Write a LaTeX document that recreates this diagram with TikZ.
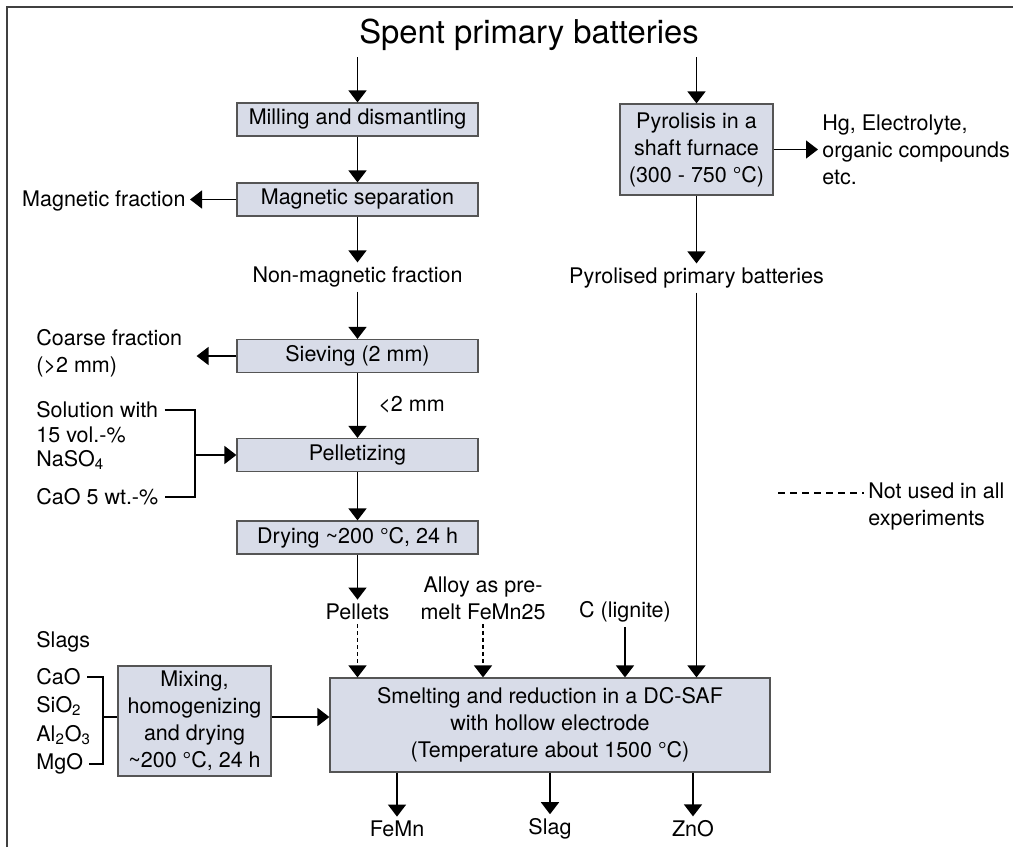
\documentclass[tikz,border=0pt]{standalone}
\usepackage{fontspec}
\setmainfont{TeX Gyre Heros}
\usetikzlibrary{arrows.meta}
\definecolor{boxfill}{RGB}{216,220,232}
\definecolor{boxline}{RGB}{85,85,85}
\tikzset{
  stepbox/.style={draw=boxline, fill=boxfill, line width=0.6pt, align=center, inner sep=0pt,
    minimum width=120.5pt, minimum height=16.5pt},
  txt/.style={align=center, inner sep=2pt},
  flow/.style={line width=0.75pt, -{Triangle[length=6pt, width=9pt]}},
  maybe/.style={flow, dash pattern=on 2pt off 1.5pt},
  link/.style={line width=0.75pt},
}
\newcommand{\sub}[1]{\textsubscript{#1}}

\begin{document}
\begin{tikzpicture}[x=0.5pt, y=-0.5pt, font=\fontsize{10.75}{13.5}\selectfont]
\useasboundingbox (0,0) rectangle (1013,847);
\draw[line width=1pt, black!75] (7,847) -- (7,7) -- (1013,7);

% left branch
\node[txt, inner sep=3pt, font=\fontsize{16.4}{20}\selectfont] (spent) at (529,35) {Spent primary batteries};
\node[stepbox] (mill) at (357.5,119.5) {Milling and dismantling};
\node[stepbox] (magsep) at (357.5,199.5) {Magnetic separation};
\node[txt, anchor=east] (magfrac) at (190,201) {Magnetic fraction};
\node[txt] (nonmag) at (357.5,277) {Non-magnetic fraction};
\node[stepbox] (sieve) at (357.5,356) {Sieving (2 mm)};
\node[txt, anchor=west, align=left] (coarse) at (32,353) {Coarse fraction\\(>2 mm)};
\node[txt, anchor=west] (fine) at (374,405) {<2 mm};
\node[stepbox] (pellet) at (357.5,455) {Pelletizing};
\node[txt, inner sep=3pt, anchor=west] (sol1) at (30,410) {Solution with};
\node[txt, anchor=west] (sol2) at (32,435) {15 vol.-\%};
\node[txt, anchor=west] (sol3) at (32,460) {NaSO\sub{4}};
\node[txt, inner sep=3pt, anchor=west] (cao5) at (30,497) {CaO 5 wt.-\%};
\coordinate (solmid) at (195,455);
\node[stepbox] (dry) at (357.5,537.5) {Drying \textasciitilde200 °C, 24 h};
\node[txt] (pellets) at (357.5,612) {Pellets};
\node[txt] (alloy) at (483,598) {Alloy as pre-\\melt FeMn25};
\node[txt] (lignite) at (625,612) {C (lignite)};

% right branch
\node[stepbox, minimum width=76.5pt, minimum height=45.5pt] (pyro) at (696.5,149.5) {Pyrolisis in a\\shaft furnace\\(300 - 750 °C)};
\node[txt, anchor=west, align=left] (hg) at (818,150) {Hg, Electrolyte,\\organic compounds\\etc.};
\node[txt] (pyrolised) at (696.5,278) {Pyrolised primary batteries};

% furnace
\node[stepbox, minimum width=220pt, minimum height=47pt] (smelt) at (550,725) {Smelting and reduction in a DC-SAF\\with hollow electrode\\(Temperature about 1500 °C)};
\node[txt] (femn) at (397,829) {FeMn};
\node[txt] (slag) at (550,829) {Slag};
\node[txt] (zno) at (693,829) {ZnO};

% slag additions
\node[txt, anchor=west] (slags) at (32,642) {Slags};
\node[txt, inner sep=3pt, anchor=west] (cao) at (30,677) {CaO};
\node[txt, anchor=west] (sio) at (32,706) {SiO\sub{2}};
\node[txt, anchor=west] (alo) at (32,735) {Al\sub{2}O\sub{3}};
\node[txt, inner sep=3pt, anchor=west] (mgo) at (30,764) {MgO};
\coordinate (slagmid) at (103,717);
\node[stepbox, minimum width=76.5pt, minimum height=55pt] (mix) at (194.5,721) {Mixing,\\homogenizing\\and drying\\\textasciitilde200 °C, 24 h};

% legend
\coordinate (legdash) at (778,493);
\node[txt, anchor=west, align=left] (legend) at (864,506) {Not used in all\\experiments};

\draw[flow] (spent.south -| mill.north) -- (mill.north);
\draw[flow] (spent.south -| pyro.north) -- (pyro.north);
\draw[flow] (mill) -- (magsep);
\draw[flow] (magsep.west) -- (magsep.west -| magfrac.east);
\draw[flow] (magsep) -- (nonmag);
\draw[flow] (nonmag) -- (sieve);
\draw[flow, shorten >=5pt] (sieve.west) -- (sieve.west -| coarse.east);
\draw[flow] (sieve) -- (pellet);
\draw[link] (sol1.east) -- (sol1.east -| solmid) -- (solmid |- cao5.east) -- (cao5.east);
\draw[flow] (solmid) -- (pellet.west);
\draw[flow] (pellet) -- (dry);
\draw[flow] (dry) -- (pellets);
\draw[maybe] (pellets.south) -- (pellets.south |- smelt.north);
\draw[maybe] (alloy.south) -- (alloy.south |- smelt.north);
\draw[flow] (lignite.south) -- (lignite.south |- smelt.north);
\draw[flow] (pyro.east) -- (pyro.east -| hg.west);
\draw[flow] (pyro) -- (pyrolised);
\draw[flow] (pyrolised.south) -- (pyrolised.south |- smelt.north);
\draw[link] (cao.east) -- (cao.east -| slagmid) -- (slagmid |- mgo.east) -- (mgo.east);
\draw[link] (slagmid) -- (slagmid -| mix.west);
\draw[flow] (mix.east |- slagmid) -- (smelt.west |- slagmid);
\draw[flow] (smelt.south -| femn.north) -- (femn.north);
\draw[flow] (smelt.south -| slag.north) -- (slag.north);
\draw[flow] (smelt.south -| zno.north) -- (zno.north);
\draw[link, dash pattern=on 3.5pt off 2.5pt] (legdash) -- (legdash -| legend.west);
\end{tikzpicture}
\end{document}
